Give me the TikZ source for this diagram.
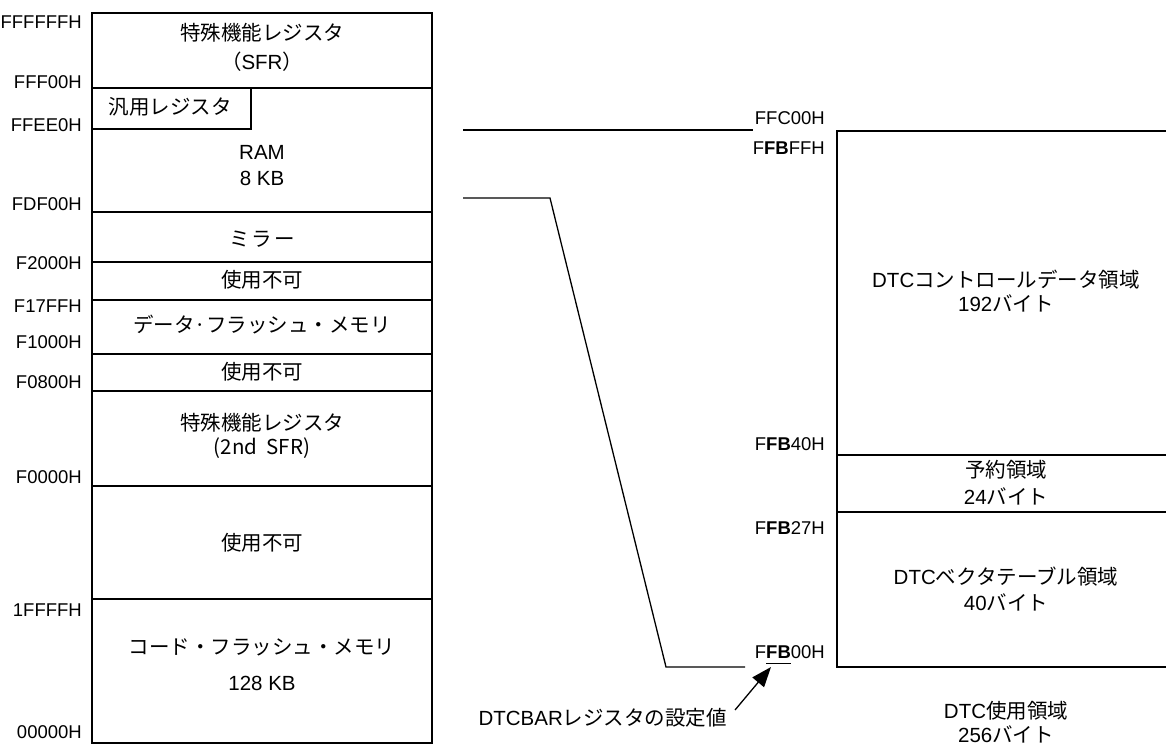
\documentclass[tikz,border=0pt]{standalone}
\usepackage{fontspec}
\setmainfont{Liberation Sans}
\newfontfamily\jp{Noto Sans CJK JP}
\usetikzlibrary{arrows.meta}
\newcommand\ulfb[1]{\setbox0\hbox{#1}\rlap{\rule[-5.3pt]{\wd0}{1.3pt}}\box0\relax}
\begin{document}
\begin{tikzpicture}[x=1pt,y=-1pt,
  ln/.style={line width=1.3pt},
  lab/.style={font=\fontsize{18.5}{22}\selectfont, anchor=base east, inner sep=0pt},
  txt/.style={font=\fontsize{20.5}{24}\selectfont, anchor=base, inner sep=0pt},
  arr/.style={line width=1.3pt, -{Triangle[length=20pt,width=15pt]}}]
\useasboundingbox (0,0) rectangle (1166,746);
% left memory map
\draw[ln] (92,13) rectangle (432,743);
\foreach \yy in {88,212,262,300,354,391,486,599}{\draw[ln] (92,\yy) -- (432,\yy);}
\draw[ln] (92,129) -- (251,129) -- (251,88);
% left labels
\node[lab] (l1) at (82,28.6) {FFFFFFH};
\node[lab] (l2) at (82,88.6) {FFF00H};
\node[lab] (l3) at (82,131.6) {FFEE0H};
\node[lab] (l4) at (82,210.6) {FDF00H};
\node[lab] (l5) at (82,269.6) {F2000H};
\node[lab] (l6) at (82,312.6) {F17FFH};
\node[lab] (l7) at (82,348.6) {F1000H};
\node[lab] (l8) at (82,388.6) {F0800H};
\node[lab] (l9) at (82,483.6) {F0000H};
\node[lab] (l10) at (82,616.6) {1FFFFH};
\node[lab] (l11) at (82,738.6) {00000H};
% left texts
\node[txt] (t1) at (262,40.5) {\jp 特殊機能レジスタ};
\node[txt] (t2) at (262,69.5) {{\jp （}SFR{\jp ）}};
\node[txt] (t3) at (170,114.5) {\jp 汎用レジスタ};
\node[txt] (t4) at (262,159.5) {RAM};
\node[txt] (t5) at (262,185.5) {8 KB};
\node[txt] (t6) at (262,246.5) {\jp ミ\hspace{2pt}ラ\hspace{2pt}ー};
\node[txt] (t7) at (262,287.5) {\jp 使用不可};
\node[txt] (t8) at (262,332.5) {\jp データ·フラッシュ・メモリ};
\node[txt] (t9) at (262,379.5) {\jp 使用不可};
\node[txt] (t10) at (262,430.5) {\jp 特殊機能レジスタ};
\node[txt] (t11) at (262,454.5) {\jp (2nd\ \ SFR)};
\node[txt] (t12) at (262,550.5) {\jp 使用不可};
\node[txt] (t13) at (262,654.5) {\jp コード・フラッシュ・メモリ};
\node[txt] (t14) at (262,690.5) {128 KB};
% connectors
\coordinate (a1) at (463,130);
\coordinate (a2) at (753,130);
\coordinate (b1) at (463,198);
\coordinate (b2) at (550,198);
\coordinate (b3) at (666,667);
\coordinate (b4) at (745,667);
\draw[ln] (a1) -- (a2);
\draw[ln] (b1) -- (b2) -- (b3) -- (b4);
% right box
\draw[ln] (1166,131) -- (837,131) -- (837,667) -- (1166,667);
\draw[ln] (837,455) -- (1166,455);
\draw[ln] (837,512) -- (1166,512);
% right labels
\node[lab] (r1) at (825,124.6) {FFC00H};
\node[lab] (r2) at (825,154.6) {F\textbf{FB}FFH};
\node[lab] (r3) at (825,450.6) {F\textbf{FB}40H};
\node[lab] (r4) at (825,534.6) {F\textbf{FB}27H};
\node[lab] (r5) at (825,658.6) {F\ulfb{\textbf{FB}}00H};
% right texts
\node[txt] (u1) at (1006,287.5) {DTC{\jp コントロールデータ領域}};
\node[txt] (u2) at (1006,311.5) {192{\jp バイト}};
\node[txt] (u3) at (1006,477.5) {\jp 予約領域};
\node[txt] (u4) at (1006,504.5) {24{\jp バイト}};
\node[txt] (u5) at (1006,584.5) {DTC{\jp ベクタテーブル領域}};
\node[txt] (u6) at (1006,610.5) {40{\jp バイト}};
\node[txt] (u7) at (1006,718.5) {DTC{\jp 使用領域}};
\node[txt] (u8) at (1006,742.5) {256{\jp バイト}};
% DTCBAR note
\node[txt, anchor=base east] (n1) at (727,725.5) {DTCBAR{\jp レジスタの設定値}};
\coordinate (ul) at (771,667);
\coordinate (at) at (735,710);
\draw[arr] (at) -- (ul);
\end{tikzpicture}
\end{document}
